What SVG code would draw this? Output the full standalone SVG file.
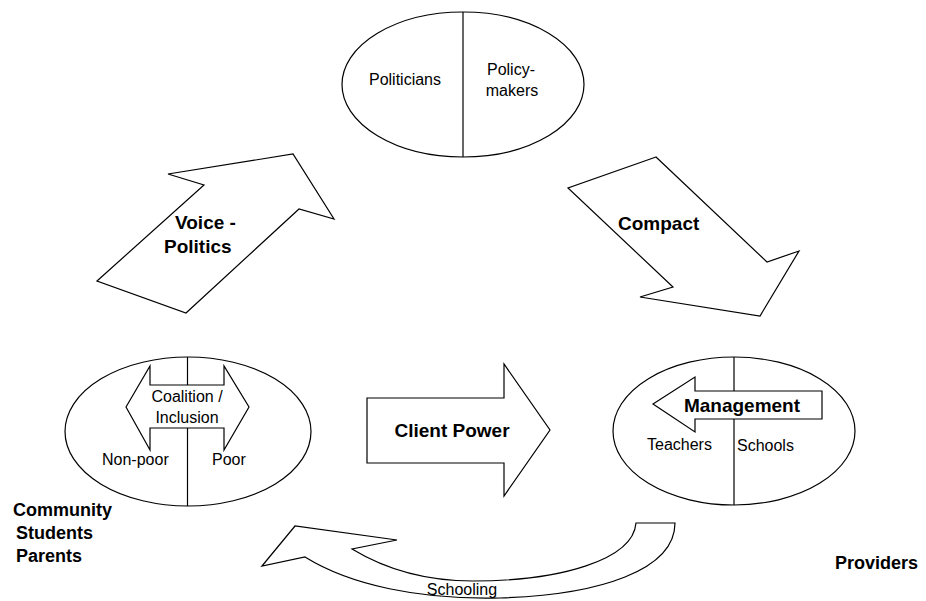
<svg xmlns="http://www.w3.org/2000/svg" width="926" height="601" viewBox="0 0 926 601">
<style>
.sh{fill:#fff;stroke:#000;stroke-width:1.2;stroke-linejoin:miter}
.ln{stroke:#000;stroke-width:1.2;fill:none}
.t{font-family:"Liberation Sans",Arial,sans-serif;font-size:16px;fill:#000}
.b{font-family:"Liberation Sans",Arial,sans-serif;font-size:19px;font-weight:bold;fill:#000}
.lb{font-family:"Liberation Sans",Arial,sans-serif;font-size:18px;font-weight:bold;fill:#000}
</style>
<rect width="926" height="601" fill="#fff"/>
<g id="politicians-node">
<ellipse class="sh" cx="463" cy="84.5" rx="121" ry="72.5"/>
<line class="ln" x1="463" y1="12" x2="463" y2="157"/>
<text class="t" x="405" y="85" text-anchor="middle">Politicians</text>
<text class="t" x="511" y="75" text-anchor="middle">Policy-</text>
<text class="t" x="512" y="96" text-anchor="middle">makers</text>
</g>
<g id="community-node">
<ellipse class="sh" cx="188" cy="431.5" rx="123" ry="74.5"/>
<line class="ln" x1="187.5" y1="357" x2="187.5" y2="506"/>
<path class="sh" d="M126,407 L150,366 L150,385 L224,385 L224,366 L249,407 L224,450 L224,428 L150,428 L150,450 Z"/>
<text class="t" x="187" y="402" text-anchor="middle">Coalition /</text>
<text class="t" x="187" y="423" text-anchor="middle">Inclusion</text>
<text class="t" x="102" y="465">Non-poor</text>
<text class="t" x="212" y="465">Poor</text>
<text class="lb" x="13" y="516">Community</text>
<text class="lb" x="16" y="539">Students</text>
<text class="lb" x="16" y="562">Parents</text>
</g>
<g id="providers-node">
<ellipse class="sh" cx="734" cy="431" rx="121" ry="74"/>
<line class="ln" x1="734" y1="357" x2="734" y2="505"/>
<path class="sh" d="M653,404 L695,377 L695,391 L822,391 L822,419 L695,419 L695,432 Z"/>
<text class="b" x="742" y="412" text-anchor="middle">Management</text>
<text class="t" x="647" y="450">Teachers</text>
<text class="t" x="737" y="451">Schools</text>
<text class="lb" x="835" y="569">Providers</text>
</g>
<g id="connectors">
<g id="voice-politics">
<path class="sh" d="M97,281 L204,185 L168,174 L293,154 L334,219 L299,209 L186,313 Z"/>
<text class="b" x="175" y="229">Voice -</text>
<text class="b" x="164" y="253">Politics</text>
</g>
<g id="compact">
<path class="sh" d="M656,157 L568,188 L673,287 L640,297 L760,316 L799,251 L767,262 Z"/>
<text class="b" x="618" y="230">Compact</text>
</g>
<g id="client-power">
<path class="sh" d="M367,398 L504,398 L504,364 L550,430 L504,496 L504,463 L367,463 Z"/>
<text class="b" x="452" y="437" text-anchor="middle">Client Power</text>
</g>
<g id="schooling">
<path class="sh" d="M262,566 L295,526 L397,540 L352,549 C390,572 430,581 473,581 C560,581 633,560 636,523 L675,523 C675,570 600,595 500,598 C420,600 350,585 305,557 Z"/>
<text class="t" x="462" y="595" text-anchor="middle">Schooling</text>
</g>
</g>
</svg>
